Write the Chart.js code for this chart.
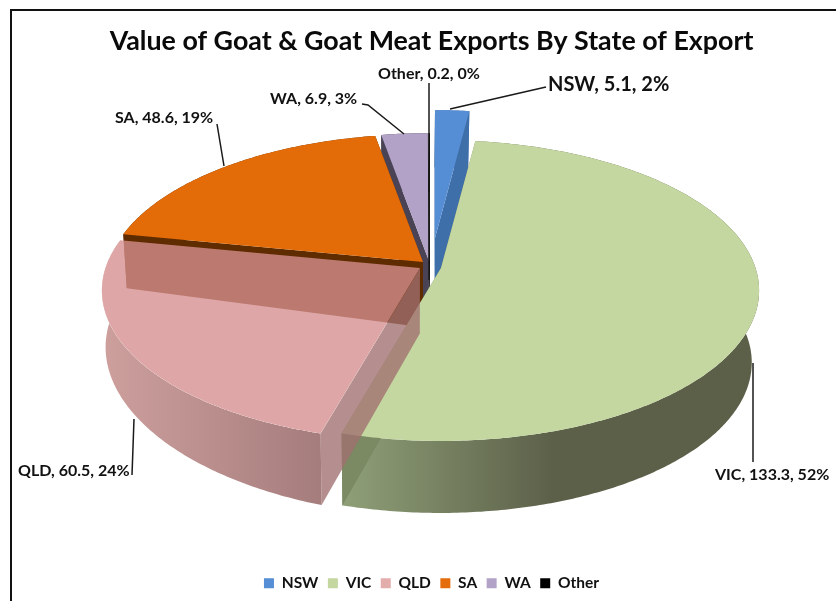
<!DOCTYPE html>
<html>
<head>
<meta charset="utf-8">
<style>
html,body{margin:0;padding:0;background:#fff;overflow:hidden}
#wrap{position:absolute;left:0;top:0;width:836px;height:601px}
</style>
<script src="https://cdn.jsdelivr.net/npm/chart.js@4"></script>
</head>
<body>
<div id="wrap"><canvas id="c" width="836" height="601"></canvas></div>
<script>
// Export values by state, in A$ million, with the shares printed on the labels.
const categories = ['NSW', 'VIC', 'QLD', 'SA', 'WA', 'Other'];
const exportValues = [5.1, 133.3, 60.5, 48.6, 6.9, 0.2];
const sharePercents = [2, 52, 24, 19, 3, 0];
const chartTitle = 'Value of Goat & Goat Meat Exports By State of Export';

const swatchColors = ['#558ed5', '#c4d7a0', '#e3adab', '#e46c0a', '#b2a2c7', '#000000'];

// Look of each wedge in the tilted view.
const wedgeStyle = [
  { top: '#558ed5', cut: '#3f6fa9', rim: '#3f6fa9', shift: [15, -30] },
  { top: '#c4d7a0', cut: '#7b8a63', rim: 'vic', shift: [21, 0] },
  { top: 'rgba(213,142,142,0.79)', cut: 'rgba(160,111,112,0.78)', rim: 'qld', shift: [0, 0] },
  { top: '#e36b08', cut: '#5f2c00', rim: '#5f2c00', shift: [3, -6] },
  { top: '#b2a2c7', cut: '#4a4356', rim: '#4a4356', shift: [9, -7] },
  { top: '#000000', cut: '#000000', rim: '#000000', shift: [10, -7] }
];
const paintOrder = [4, 5, 0, 3, 1, 2];

// Perspective of the disc: centre, radii and foreshortening of the far side.
const view = { cx: 420, cy: 268, rx: 314.5, ry: 147, k: 0.15 };

// Callout text anchors and the leader line running from each one to its wedge.
const callouts = [
  { i: 0, font: 20, x: 548, y: 85, line: [[546, 87], [450, 109]] },
  { i: 1, font: 16, x: 715, y: 475, line: [[753, 462], [753, 363]] },
  { i: 2, font: 16, x: 18, y: 471, line: [[132, 475], [134, 419]] },
  { i: 3, font: 16, x: 115, y: 118, line: [[217, 124], [224, 166]] },
  { i: 4, font: 16, x: 270, y: 99, line: [[362, 104], [368, 105], [404, 134]] },
  { i: 5, font: 16, x: 378, y: 74, line: [[429, 83], [429, 280]] }
];

function onDisc(angle, shift) {
  const u = Math.cos(angle), v = -Math.sin(angle), w = 1 + view.k * v;
  return [view.cx + shift[0] + view.rx * u / w, view.cy + shift[1] - view.ry * v / w];
}
function apexOf(shift) {
  return [view.cx + shift[0], view.cy + shift[1]];
}
// Where a point of the top face lands on the underside of the slab.
function dropped(p) {
  const lean = p[0] < 410 ? 0.012 : 0.021;
  const depth = Math.min(72, 37 + 0.0565 * p[1] + 0.0319 * p[0]);
  return [p[0] - lean * (p[0] - 410), p[1] + depth];
}
function tracePath(ctx, pts) {
  ctx.moveTo(pts[0][0], pts[0][1]);
  for (let n = 1; n < pts.length; n++) ctx.lineTo(pts[n][0], pts[n][1]);
  ctx.closePath();
}
function fillPoly(ctx, pts, fill) {
  ctx.beginPath();
  tracePath(ctx, pts);
  ctx.fillStyle = fill;
  ctx.fill();
}
function rimFill(ctx, kind) {
  if (kind === 'vic') {
    const g = ctx.createLinearGradient(345, 0, 760, 0);
    g.addColorStop(0, '#8e9f77');
    g.addColorStop(0.5, '#5c6049');
    g.addColorStop(1, '#5c6049');
    return g;
  }
  if (kind === 'qld') {
    const g = ctx.createLinearGradient(102, 0, 322, 0);
    g.addColorStop(0, 'rgba(191,133,130,0.78)');
    g.addColorStop(1, 'rgba(140,88,88,0.78)');
    return g;
  }
  return kind;
}

const tiltedPie = {
  id: 'tiltedPie',
  beforeDraw(chart) {
    const ctx = chart.ctx;
    ctx.save();
    ctx.fillStyle = '#fff';
    ctx.fillRect(0, 0, chart.width, chart.height);
    ctx.fillStyle = '#111';
    ctx.fillRect(10, 9, chart.width - 10, 2);
    ctx.fillRect(10, 9, 2, chart.height - 9);
    ctx.restore();
  },
  beforeDatasetDraw(chart) {
    const ctx = chart.ctx;
    const arcs = chart.getDatasetMeta(0).data;
    ctx.save();
    paintOrder.forEach(i => {
      const arc = arcs[i], style = wedgeStyle[i];
      const shift = style.shift;
      const steps = Math.max(2, Math.ceil((arc.endAngle - arc.startAngle) * 90));
      const rim = [];
      for (let s = 0; s <= steps; s++) {
        rim.push(onDisc(arc.startAngle + (arc.endAngle - arc.startAngle) * s / steps, shift));
      }
      const apex = apexOf(shift);
      const topFace = [apex].concat(rim);
      const rimFace = rim.concat(rim.map(dropped).reverse());
      const translucent = i === 2;
      const first = rim[0], last = rim[rim.length - 1];

      ctx.save();
      if (translucent) {
        // The see-through wedge must not darken itself where its faces overlap.
        ctx.beginPath();
        ctx.rect(0, 0, chart.width, chart.height);
        tracePath(ctx, topFace);
        ctx.clip('evenodd');
      }
      fillPoly(ctx, rimFace, rimFill(ctx, style.rim));
      if (!translucent) {
        fillPoly(ctx, [last, apex, dropped(apex), dropped(last)], style.cut);
      }
      fillPoly(ctx, [first, apex, dropped(apex), dropped(first)], style.cut);
      ctx.restore();
      fillPoly(ctx, topFace, style.top);
    });
    ctx.restore();
    return false;
  },
  afterDatasetsDraw(chart) {
    const ctx = chart.ctx;
    ctx.save();
    ctx.textBaseline = 'middle';
    ctx.textAlign = 'left';
    callouts.forEach(c => {
      ctx.strokeStyle = '#1a1a1a';
      ctx.lineWidth = 1.5;
      ctx.beginPath();
      c.line.forEach((p, n) => n ? ctx.lineTo(p[0], p[1]) : ctx.moveTo(p[0], p[1]));
      ctx.stroke();
      ctx.fillStyle = '#111';
      ctx.font = '700 ' + c.font + 'px Lato';
      ctx.fillText(categories[c.i] + ', ' + exportValues[c.i] + ', ' + sharePercents[c.i] + '%', c.x, c.y);
    });
    ctx.restore();
  }
};

new Chart(document.getElementById('c'), {
  type: 'pie',
  data: {
    labels: categories,
    datasets: [{ data: exportValues, backgroundColor: swatchColors, borderWidth: 0 }]
  },
  options: {
    responsive: false,
    animation: false,
    layout: { padding: { left: 27, top: 25, bottom: 0 } },
    plugins: {
      tooltip: { enabled: false },
      title: {
        display: true,
        text: chartTitle,
        color: '#0a0a0a',
        font: { family: 'Lato', size: 26.8, weight: '700' },
        padding: { top: 0, bottom: 0 }
      },
      legend: {
        position: 'bottom',
        labels: {
          color: '#111',
          font: { family: 'Lato', size: 15.5, weight: '700' },
          boxWidth: 10,
          boxHeight: 10,
          padding: 9.5
        }
      }
    }
  },
  plugins: [tiltedPie]
});
</script>
</body>
</html>
